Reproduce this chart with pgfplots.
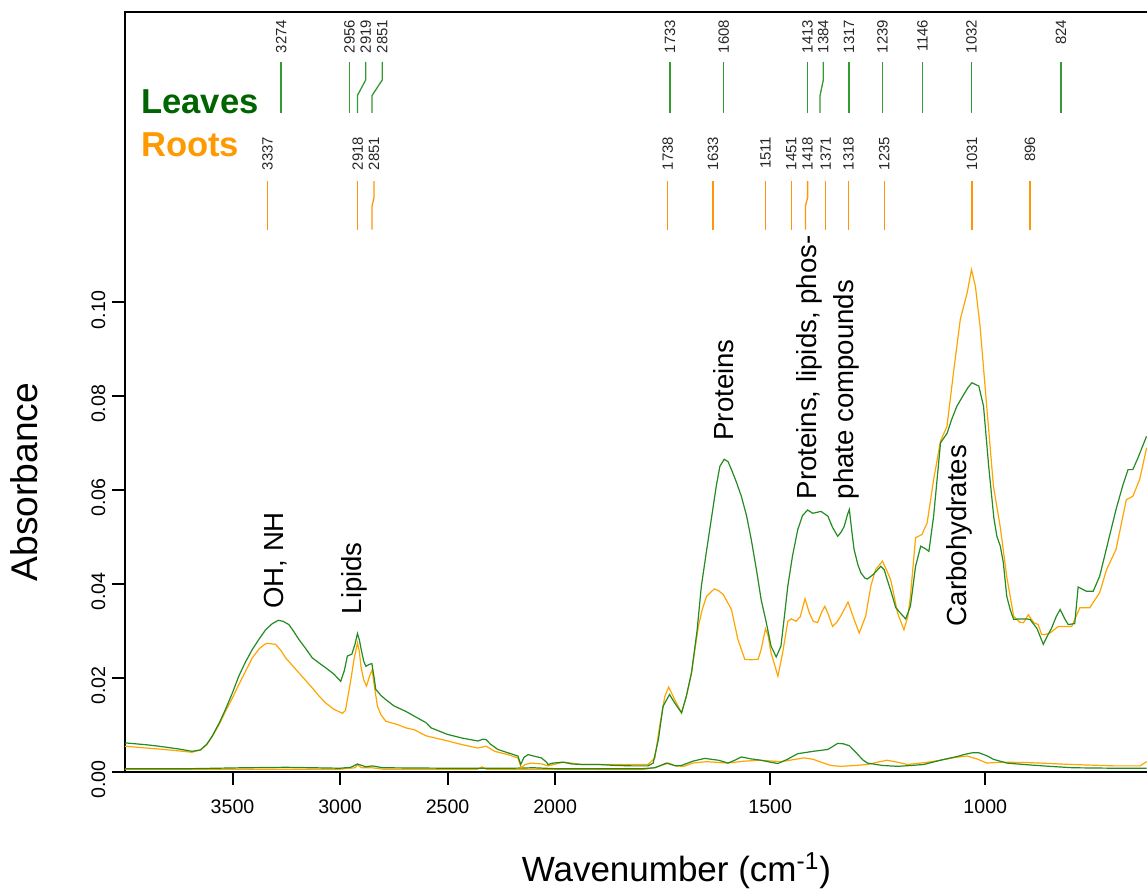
\documentclass[border=0pt]{standalone}
\usepackage{pgfplots}
\pgfplotsset{compat=1.18}
\usepackage{fontspec}
\setmainfont{Liberation Sans}
\definecolor{leafline}{RGB}{34,139,34}
\definecolor{rootline}{RGB}{255,165,0}
\definecolor{leaftext}{RGB}{0,100,0}
\definecolor{roottext}{RGB}{255,153,0}
\definecolor{pkgreen}{RGB}{50,155,50}
\definecolor{pkorange}{RGB}{255,150,10}
\makeatletter
\newdimen\trdim
\newcommand\wtrafo[1]{%
  \trdim=#1pt\relax
  \ifdim\trdim>2000pt
    \advance\trdim by -2000pt
    \divide\trdim by 2
    \advance\trdim by 2000pt
  \fi
  \edef\pgfmathresult{\pgf@sys@tonumber\trdim}}
\makeatother
\tikzset{pklab/.style={rotate=90, inner sep=0pt, anchor=east, text=black!85,
  font=\fontsize{7.45}{8}\selectfont},
  annot/.style={rotate=90, inner sep=0pt, anchor=base west, text=black,
  font=\fontsize{13.8}{16}\selectfont}}
% green peak: label position, true position, text
\newcommand{\gpk}[3]{%
  \draw[pkgreen, line width=0.65pt] (axis cs:#1,0.15116) -- (axis cs:#1,0.1473) -- (axis cs:#2,0.1440) -- (axis cs:#2,0.14030);
  \node[pklab] at (axis cs:#1,0.16017) {#3};}
\newcommand{\opk}[3]{%
  \draw[pkorange, line width=0.65pt] (axis cs:#1,0.12573) -- (axis cs:#1,0.1222) -- (axis cs:#2,0.1205) -- (axis cs:#2,0.11544);
  \node[pklab] at (axis cs:#1,0.13525) {#3};}
\begin{document}
\begin{tikzpicture}
\useasboundingbox (-62.5pt,-60pt) rectangle (511pt,386pt);
\begin{axis}[
  at={(0,0)}, anchor=south west,
  scale only axis, width=511pt, height=380pt,
  x coord trafo/.code={\wtrafo{#1}},
  xmin=624, xmax=4000, x dir=reverse,
  ymin=-0.0001, ymax=0.16177,
  clip=false,
  separate axis lines,
  axis line style={draw=none},
  xtick={3500,3000,2500,2000,1500,1000},
  xticklabels={3500,3000,2500,2000,1500,1000},
  ytick={0,0.02,0.04,0.06,0.08,0.1},
  yticklabels={0.00,0.02,0.04,0.06,0.08,0.10},
  minor tick num=0,
  tick align=outside, xtick pos=left, ytick pos=left,
  major tick length=6.3pt,
  tick style={black, line width=1pt},
  ticklabel style={font=\fontsize{9.8}{11}\selectfont},
  xticklabel style={yshift=-4pt},
  yticklabel style={rotate=90, anchor=south, xshift=-4pt},
  xlabel={Wavenumber (cm\textsuperscript{-1})},
  ylabel={Absorbance},
  xlabel style={at={(axis description cs:0.5396,-0.1447)}, anchor=base, font=\fontsize{17.5}{20}\selectfont},
  ylabel style={at={(axis description cs:-0.0988,0.3816)}, anchor=center, font=\fontsize{18.6}{20}\selectfont},
]
% spines
\draw[line width=1pt, line cap=rect] (rel axis cs:1,1) -- (rel axis cs:0,1) -- (rel axis cs:0,0) -- (rel axis cs:1,0);

% near-zero traces
\addplot[rootline, line width=0.6pt] table {
w a
4000 0.0005
3000 0.0005
2930 0.0008
2919 0.0014
2900 0.0008
2851 0.0008
2800 0.0005
2360 0.0005
2340 0.0010
2320 0.0005
2000 0.0005
1799 0.0004
1770 0.0008
1736 0.0018
1720 0.0012
1701 0.0011
1680 0.0018
1648 0.0021
1600 0.0018
1560 0.0022
1525 0.0024
1475 0.0021
1421 0.0029
1400 0.0026
1382 0.0020
1360 0.0013
1336 0.0011
1300 0.0013
1274 0.0015
1250 0.0020
1228 0.0024
1205 0.0020
1181 0.0015
1140 0.0019
1104 0.0024
1070 0.0030
1042 0.0033
1020 0.0027
996 0.0018
960 0.0020
900 0.0019
873 0.0018
800 0.0015
700 0.0012
640 0.0012
625 0.0021
};
\addplot[leafline, line width=0.6pt] table {
w a
4000 0.0006
3700 0.0006
3450 0.0008
3250 0.0009
3000 0.0007
2950 0.0009
2919 0.0016
2880 0.0010
2851 0.0012
2800 0.0008
2500 0.0007
2300 0.0007
2200 0.0007
2100 0.0008
2000 0.0006
1850 0.0006
1799 0.0006
1768 0.0008
1741 0.0018
1720 0.0012
1706 0.0013
1680 0.0022
1652 0.0028
1620 0.0024
1598 0.0018
1580 0.0025
1567 0.0031
1545 0.0027
1521 0.0024
1500 0.0020
1482 0.0017
1460 0.0026
1436 0.0038
1400 0.0043
1366 0.0047
1355 0.0053
1343 0.0060
1330 0.0059
1316 0.0055
1300 0.0040
1285 0.0025
1274 0.0018
1240 0.0013
1204 0.0011
1170 0.0013
1143 0.0015
1100 0.0025
1065 0.0032
1050 0.0036
1030 0.0040
1015 0.0040
995 0.0033
981 0.0026
950 0.0018
911 0.0015
850 0.0011
796 0.0008
700 0.0007
625 0.0007
};

% Roots spectrum
\addplot[rootline, line width=0.6pt] table {
w a
4000 0.0054
3900 0.0050
3844 0.0048
3750 0.0044
3688 0.0041
3649 0.0046
3620 0.0057
3595 0.0074
3560 0.0102
3533 0.0128
3500 0.0157
3471 0.0185
3440 0.0213
3408 0.0242
3375 0.0262
3350 0.0271
3338 0.0273
3300 0.0271
3275 0.0258
3253 0.0242
3220 0.0225
3191 0.0210
3160 0.0194
3129 0.0178
3100 0.0162
3067 0.0146
3030 0.0133
2989 0.0124
2975 0.0130
2966 0.0153
2950 0.0195
2935 0.0239
2919 0.0274
2910 0.0255
2903 0.0224
2890 0.0195
2877 0.0182
2865 0.0200
2851 0.0217
2840 0.0180
2826 0.0139
2810 0.0121
2787 0.0107
2732 0.0100
2694 0.0093
2655 0.0089
2600 0.0076
2499 0.0065
2430 0.0057
2359 0.0050
2321 0.0054
2281 0.0043
2220 0.0036
2173 0.0029
2158 0.0008
2140 0.0015
2110 0.0018
2060 0.0016
2033 0.0012
1980 0.0020
1938 0.0015
1860 0.0015
1784 0.0015
1768 0.0029
1757 0.0097
1745 0.0160
1736 0.0180
1722 0.0153
1706 0.0125
1695 0.0160
1683 0.0210
1667 0.0309
1658 0.0345
1648 0.0373
1630 0.0389
1620 0.0385
1609 0.0377
1590 0.0345
1575 0.0281
1559 0.0239
1545 0.0238
1528 0.0239
1521 0.0260
1511 0.0304
1505 0.0290
1498 0.0253
1482 0.0203
1471 0.0253
1459 0.0320
1451 0.0325
1440 0.0320
1430 0.0330
1419 0.0368
1409 0.0338
1400 0.0320
1390 0.0317
1380 0.0340
1373 0.0352
1365 0.0335
1355 0.0309
1345 0.0318
1336 0.0331
1319 0.0361
1305 0.0324
1293 0.0295
1278 0.0331
1266 0.0395
1255 0.0430
1239 0.0448
1230 0.0430
1220 0.0409
1212 0.0375
1204 0.0338
1189 0.0302
1180 0.0330
1174 0.0373
1162 0.0498
1147 0.0505
1135 0.0530
1120 0.0622
1104 0.0704
1089 0.0735
1073 0.0856
1058 0.0963
1042 0.1020
1032 0.1069
1023 0.1034
1012 0.0948
996 0.0771
981 0.0608
965 0.0520
950 0.0415
934 0.0331
920 0.0318
911 0.0317
900 0.0334
887 0.0317
877 0.0313
869 0.0292
861 0.0292
851 0.0294
830 0.0309
799 0.0309
780 0.0349
757 0.0349
734 0.0381
718 0.0430
696 0.0473
672 0.0579
657 0.0586
641 0.0622
625 0.0689
};

% Leaves spectrum
\addplot[leafline, line width=0.6pt] table {
w a
4000 0.0061
3900 0.0057
3844 0.0054
3750 0.0048
3688 0.0043
3649 0.0046
3620 0.0058
3595 0.0075
3560 0.0105
3533 0.0132
3500 0.0168
3471 0.0203
3440 0.0233
3408 0.0260
3375 0.0283
3346 0.0302
3315 0.0315
3287 0.0322
3265 0.0320
3238 0.0313
3215 0.0298
3191 0.0281
3160 0.0262
3129 0.0242
3100 0.0232
3067 0.0221
3030 0.0208
2997 0.0192
2980 0.0215
2966 0.0246
2945 0.0250
2930 0.0272
2919 0.0294
2910 0.0280
2903 0.0263
2890 0.0235
2880 0.0224
2865 0.0228
2852 0.0230
2840 0.0195
2834 0.0175
2810 0.0162
2787 0.0153
2750 0.0140
2694 0.0128
2655 0.0118
2600 0.0104
2577 0.0093
2500 0.0079
2430 0.0071
2359 0.0065
2335 0.0069
2321 0.0068
2300 0.0058
2266 0.0047
2220 0.0040
2173 0.0033
2160 0.0015
2145 0.0030
2126 0.0036
2100 0.0033
2064 0.0029
2040 0.0020
2033 0.0015
2010 0.0018
1982 0.0020
1960 0.0016
1938 0.0015
1900 0.0015
1861 0.0013
1820 0.0012
1784 0.0012
1772 0.0018
1760 0.0068
1749 0.0139
1734 0.0164
1722 0.0146
1706 0.0125
1695 0.0160
1683 0.0210
1670 0.0300
1660 0.0395
1648 0.0470
1637 0.0537
1625 0.0610
1617 0.0650
1607 0.0665
1598 0.0660
1590 0.0643
1578 0.0615
1567 0.0586
1555 0.0545
1544 0.0494
1532 0.0430
1521 0.0366
1509 0.0317
1498 0.0267
1486 0.0244
1475 0.0267
1467 0.0330
1459 0.0395
1448 0.0460
1436 0.0515
1425 0.0545
1413 0.0557
1401 0.0550
1382 0.0554
1366 0.0544
1355 0.0520
1343 0.0501
1335 0.0510
1328 0.0522
1320 0.0548
1316 0.0558
1310 0.0510
1305 0.0473
1296 0.0440
1289 0.0423
1280 0.0412
1274 0.0410
1260 0.0420
1243 0.0437
1235 0.0430
1228 0.0409
1218 0.0380
1208 0.0349
1195 0.0335
1185 0.0325
1174 0.0352
1162 0.0437
1150 0.0480
1140 0.0475
1131 0.0469
1120 0.0544
1104 0.0700
1095 0.0712
1089 0.0720
1078 0.0750
1066 0.0778
1050 0.0803
1040 0.0818
1031 0.0828
1015 0.0821
1004 0.0778
992 0.0650
980 0.0540
973 0.0501
965 0.0480
958 0.0445
950 0.0373
942 0.0345
934 0.0324
919 0.0325
905 0.0325
896 0.0324
880 0.0305
865 0.0271
855 0.0290
846 0.0305
835 0.0330
826 0.0345
815 0.0325
807 0.0313
792 0.0315
784 0.0393
765 0.0384
749 0.0384
734 0.0416
715 0.0487
696 0.0558
680 0.0610
668 0.0643
657 0.0643
645 0.0668
625 0.0714
};

% peak markers: Leaves
\gpk{3274}{3274}{3274}
\gpk{2956}{2956}{2956}
\gpk{2880.8}{2919}{2919}
\gpk{2803.6}{2851}{2851}
\gpk{1733}{1733}{1733}
\gpk{1608}{1608}{1608}
\gpk{1413}{1413}{1413}
\gpk{1376.5}{1384}{1384}
\gpk{1317}{1317}{1317}
\gpk{1239}{1239}{1239}
\gpk{1146}{1146}{1146}
\gpk{1032}{1032}{1032}
\gpk{824}{824}{824}
% peak markers: Roots
\opk{3337}{3337}{3337}
\opk{2918}{2918}{2918}
\opk{2842.2}{2851}{2851}
\opk{1738}{1738}{1738}
\opk{1633}{1633}{1633}
\opk{1511}{1511}{1511}
\opk{1451}{1451}{1451}
\opk{1413}{1418}{1418}
\opk{1371}{1371}{1371}
\opk{1318}{1318}{1318}
\opk{1235}{1235}{1235}
\opk{1031}{1031}{1031}
\opk{896}{896}{896}

% group names
\node[anchor=base west, inner sep=0pt, text=leaftext, font=\fontsize{17.3}{20}\selectfont\bfseries] at (axis description cs:0.01546,0.8667) {Leaves};
\node[anchor=base west, inner sep=0pt, text=roottext, font=\fontsize{17.3}{20}\selectfont\bfseries] at (axis description cs:0.01546,0.8096) {Roots};

% band annotations
\node[annot] at (axis cs:3264,0.0346) {OH, NH};
\node[annot] at (axis cs:2898,0.0334) {Lipids};
\node[annot] at (axis cs:1586,0.0704) {Proteins};
\node[annot] at (axis cs:1391.5,0.0579) {Proteins, lipids, phos-};
\node[annot] at (axis cs:1305.7,0.0579) {phate compounds};
\node[annot] at (axis cs:1044.6,0.0309) {Carbohydrates};
\end{axis}
\end{tikzpicture}
\end{document}
